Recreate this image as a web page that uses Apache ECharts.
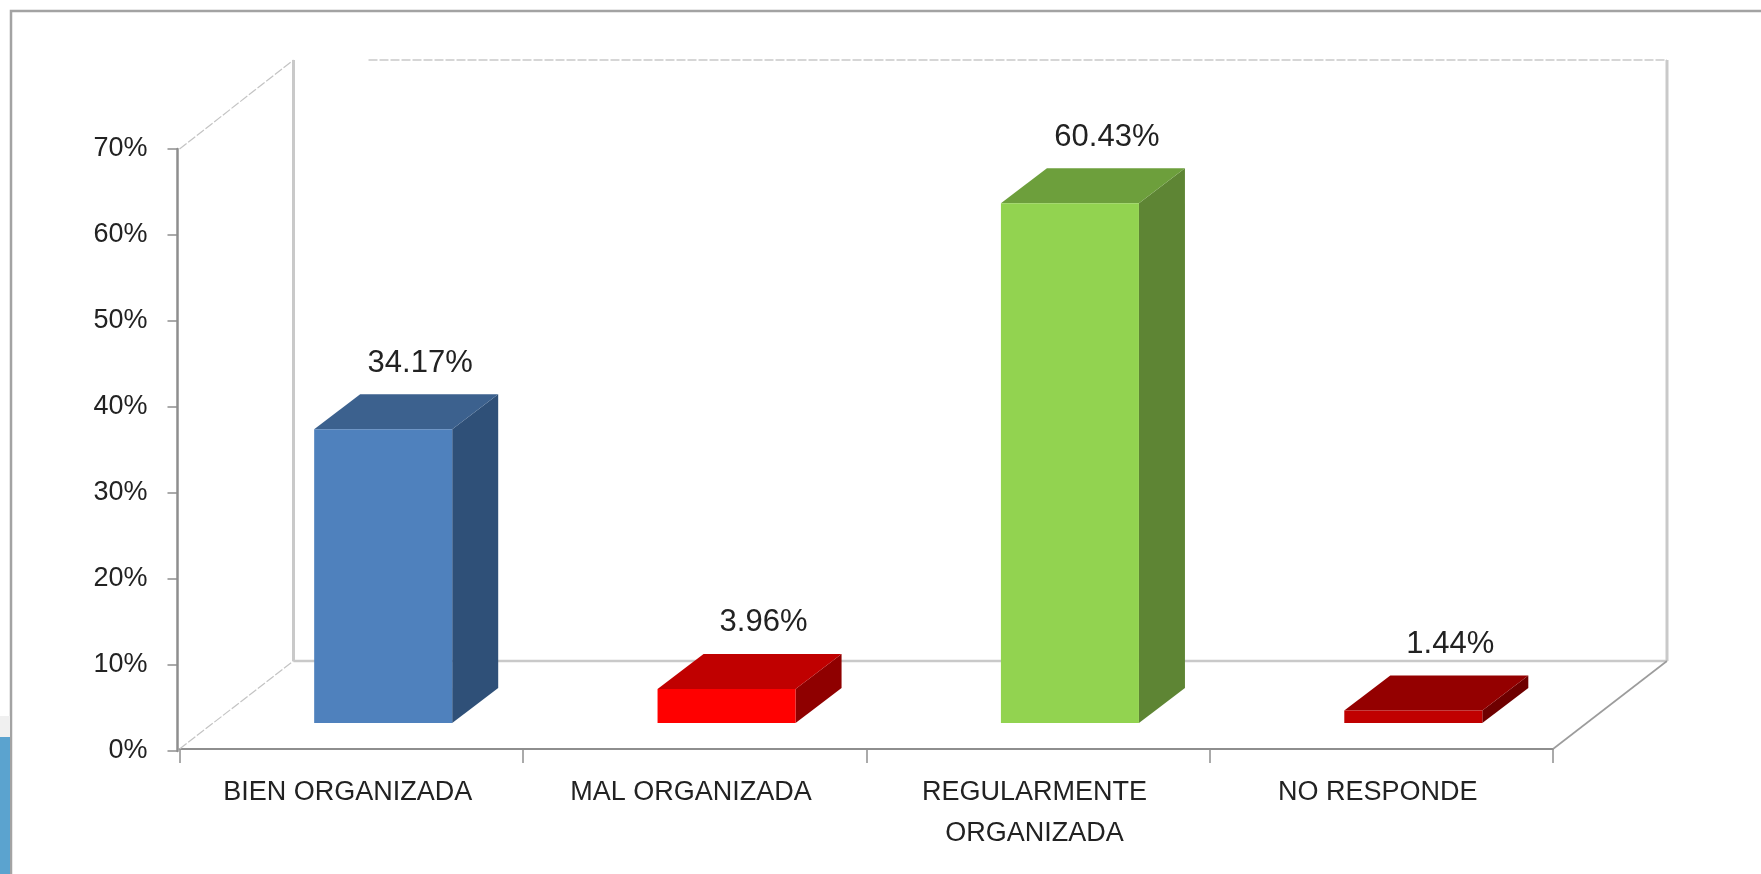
<!DOCTYPE html>
<html>
<head>
<meta charset="utf-8">
<title>Organización</title>
<script src="https://cdn.jsdelivr.net/npm/echarts@6/dist/echarts.min.js"></script>
<style>
  html, body { margin: 0; padding: 0; background: #fff; }
  #main { width: 1761px; height: 874px; }
</style>
</head>
<body>
<div id="main"></div>
<script>
const categories = ['BIEN ORGANIZADA', 'MAL ORGANIZADA', 'REGULARMENTE\nORGANIZADA', 'NO RESPONDE'];
const values = [34.17, 3.96, 60.43, 1.44];
const yTicks = { min: 0, max: 70, interval: 10 };

// colores de cada barra: frente, tapa, lateral
const palette = [
  ['#4f81bd', '#3c618e', '#2f5078'],
  ['#ff0000', '#c00000', '#8f0000'],
  ['#92d350', '#6d9f3c', '#5e8534'],
  ['#c00000', '#940000', '#6e0000']
];

const textColor = '#222';
const wallColor = '#c9c9c9';
const axisColor = '#8e8e8e';

// profundidad del suelo y de las barras, en pixeles
const floorDx = 114, floorDy = -88;
const barShiftX = 32, barShiftY = -28;
const barDx = 46, barDy = -35;

function renderBar(params, api) {
  const i = params.dataIndex;
  const base = api.coord([i, 0]);
  const top = api.coord([i, api.value(1)]);
  const w = api.size([1, 0])[0] * 0.402;
  const l = base[0] + barShiftX - w / 2;
  const r = l + w;
  const y0 = base[1] + barShiftY;
  const y1 = top[1] + barShiftY;
  const c = palette[i];
  return {
    type: 'group',
    children: [
      { type: 'polygon', shape: { points: [[r, y0], [r + barDx, y0 + barDy], [r + barDx, y1 + barDy], [r, y1]] }, style: { fill: c[2] } },
      { type: 'polygon', shape: { points: [[l, y1], [r, y1], [r + barDx, y1 + barDy], [l + barDx, y1 + barDy]] }, style: { fill: c[1] } },
      { type: 'rect', shape: { x: l, y: y1, width: w, height: y0 - y1 }, style: { fill: c[0] } },
      {
        type: 'text',
        style: {
          x: base[0] + barShiftX + 37,
          y: y1 + barDy - 31,
          text: api.value(1).toFixed(2) + '%',
          fontFamily: 'Liberation Sans',
          fontSize: 31,
          fill: textColor,
          align: 'center',
          verticalAlign: 'middle'
        }
      }
    ]
  };
}

function renderWalls(params, api) {
  const band = api.size([1, 0])[0];
  const x0 = api.coord([0, 0])[0] - band / 2;
  const x1 = x0 + band * categories.length;
  const yb = api.coord([0, 0])[1] - 2;
  const yt = api.coord([0, yTicks.max])[1];
  const bx0 = x0 + floorDx, bx1 = x1 + floorDx;
  const byb = yb + floorDy, byt = yt + floorDy - 1;
  const line = (a, b, c, d, style) => ({
    type: 'line',
    shape: { x1: a, y1: b, x2: c, y2: d },
    style: Object.assign({ fill: null }, style)
  });
  const thin = { stroke: '#c4c4c4', lineWidth: 1.2, lineDash: [9, 2] };
  const wall = { stroke: wallColor, lineWidth: 3 };
  return {
    type: 'group',
    children: [
      line(x0, yt, bx0, byt, thin),
      line(x0, yb, bx0, byb, thin),
      line(bx0 + 75, byt, bx1, byt, { stroke: wallColor, lineWidth: 1.5, lineDash: [9, 2] }),
      line(bx0, byt, bx0, byb, wall),
      line(bx0, byb, bx1, byb, { stroke: wallColor, lineWidth: 2.5 }),
      line(bx1, byt, bx1, byb, wall),
      line(x1, yb, bx1, byb, { stroke: '#9c9c9c', lineWidth: 1.6 })
    ]
  };
}

const chart = echarts.init(document.getElementById('main'));
chart.setOption({
  backgroundColor: '#fff',
  animation: false,
  grid: { left: 179.5, top: 149, width: 1373.5, height: 602 },
  xAxis: {
    type: 'category',
    data: categories,
    offset: -2,
    axisLine: { lineStyle: { color: axisColor, width: 2 } },
    axisTick: { show: true, alignWithLabel: false, interval: 0, length: 14, lineStyle: { color: axisColor, width: 1.5 } },
    axisLabel: {
      interval: 0,
      margin: 23,
      padding: [0, 7, 0, 0],
      color: textColor,
      fontFamily: 'Liberation Sans',
      fontSize: 27,
      lineHeight: 41
    }
  },
  yAxis: {
    type: 'value',
    min: yTicks.min,
    max: yTicks.max,
    interval: yTicks.interval,
    offset: 2,
    splitLine: { show: false },
    axisLine: { show: true, lineStyle: { color: axisColor, width: 2.5 } },
    axisTick: { show: true, length: 10, lineStyle: { color: axisColor, width: 1.5 } },
    axisLabel: {
      margin: 30,
      padding: [4, 0, 0, 0],
      color: textColor,
      fontFamily: 'Liberation Sans',
      fontSize: 27,
      formatter: '{value}%'
    }
  },
  series: [
    { type: 'custom', name: 'walls', silent: true, clip: false, z: 1, data: [[0, 0]], renderItem: renderWalls },
    { type: 'custom', name: 'barras', silent: true, clip: false, z: 3, data: values.map((v, i) => [i, v]), renderItem: renderBar }
  ],
  graphic: [
    { type: 'polyline', z: 0, shape: { points: [[11, 874], [11, 11], [1761, 11]] }, style: { fill: null, stroke: '#a3a3a3', lineWidth: 2.5 } },
    { type: 'rect', z: 0, shape: { x: 0, y: 716, width: 10, height: 21 }, style: { fill: '#f0f0f0' } },
    { type: 'rect', z: 0, shape: { x: 0, y: 737, width: 10, height: 137 }, style: { fill: '#5ba3cf' } }
  ]
});
window.addEventListener('resize', chart.resize);
</script>
</body>
</html>
